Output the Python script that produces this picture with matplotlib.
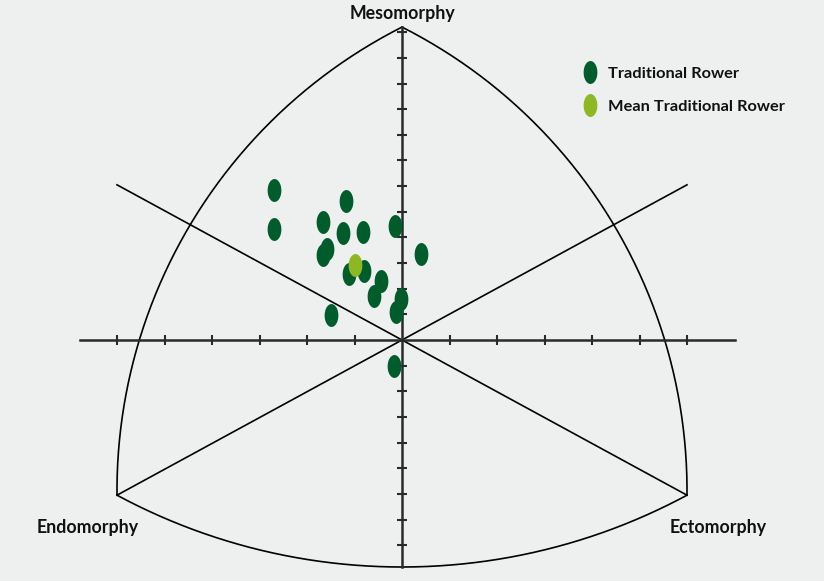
import numpy as np
import matplotlib
matplotlib.use("Agg")
import matplotlib.pyplot as plt
from matplotlib.path import Path
from matplotlib.lines import Line2D

# ---- data (somatochart X, Y coordinates) ----
rower_x = [-2.70, -2.70, -1.17, -1.66, -1.25, -0.82, -0.15, -1.57, -1.66, 0.41,
           -1.12, -0.79, -0.44, -0.58, -0.03, -0.13, -1.50, -0.17]
rower_y = [5.85, 4.32, 5.43, 4.60, 4.16, 4.20, 4.46, 3.54, 3.31, 3.34,
           2.56, 2.68, 2.30, 1.73, 1.59, 1.10, 0.96, -1.00]
mean_x = [-0.99]
mean_y = [2.92]
x_ticks = [-6, -5, -4, -3, -2, -1, 1, 2, 3, 4, 5, 6]
y_ticks = [-8, -7, -6, -5, -4, -3, -2, -1, 1, 2, 3, 4, 5, 6, 7, 8, 9, 10, 11, 12]
axis_labels = ["Mesomorphy", "Endomorphy", "Ectomorphy"]
legend_labels = ["Traditional Rower", "Mean Traditional Rower"]

# ---- geometry / style ----
BG = "#eef0ef"
DARK = "#005c2a"
LIGHT = "#8db824"
SX, SY = 47.5, 25.65          # pixels per unit
OX, OY = 402, 340             # origin pixel
W, H = 824, 581
top_v = (0.0, 12.2)
bl_v = (-6.0, -6.05)
br_v = (6.0, -6.05)
left_mid = (-5.53, 0.0)
bot_mid = (0.0, -8.85)

fig = plt.figure(figsize=(W / 100, H / 100), dpi=100, facecolor=BG)
ax = fig.add_axes([0, 0, 1, 1])
ax.set_facecolor(BG)
ax.set_xlim(-OX / SX, (W - OX) / SX)
ax.set_ylim(-(H - OY) / SY, OY / SY)
ax.axis("off")


def arc(p1, p2, p3, n=200):
    # circle through three points computed in pixel-like space
    a = np.array([p1[0] * SX, p1[1] * SY])
    b = np.array([p2[0] * SX, p2[1] * SY])
    c = np.array([p3[0] * SX, p3[1] * SY])
    d = 2 * (a[0] * (b[1] - c[1]) + b[0] * (c[1] - a[1]) + c[0] * (a[1] - b[1]))
    ux = ((a @ a) * (b[1] - c[1]) + (b @ b) * (c[1] - a[1]) + (c @ c) * (a[1] - b[1])) / d
    uy = ((a @ a) * (c[0] - b[0]) + (b @ b) * (a[0] - c[0]) + (c @ c) * (b[0] - a[0])) / d
    r = np.hypot(a[0] - ux, a[1] - uy)
    t1 = np.arctan2(a[1] - uy, a[0] - ux)
    t2 = np.arctan2(b[1] - uy, b[0] - ux)
    t3 = np.arctan2(c[1] - uy, c[0] - ux)
    t2u = np.unwrap([t1, t2, t3])
    t = np.linspace(t2u[0], t2u[2], n)
    return (ux + r * np.cos(t)) / SX, (uy + r * np.sin(t)) / SY


lw_thin = 1.2
for p1, p2, p3 in [(top_v, left_mid, bl_v),
                   (top_v, (-left_mid[0], left_mid[1]), br_v),
                   (bl_v, bot_mid, br_v)]:
    xs, ys = arc(p1, p2, p3)
    ax.plot(xs, ys, color="black", lw=lw_thin, solid_capstyle="round")

# diagonals through origin
ax.plot([bl_v[0], -bl_v[0]], [bl_v[1], -bl_v[1]], color="black", lw=lw_thin)
ax.plot([br_v[0], -br_v[0]], [br_v[1], -br_v[1]], color="black", lw=lw_thin)

# axes
AX_COL = "#2a2a2a"
ax.plot([(80 - OX) / SX, (735 - OX) / SX], [0, 0], color=AX_COL, lw=1.8)
ax.plot([0, 0], [bot_mid[1], top_v[1]], color=AX_COL, lw=1.8)
tk = 5.0
ax.vlines(x_ticks, -tk / SY, tk / SY, color=AX_COL, lw=1.5)
ax.hlines(y_ticks, -tk / SX, tk / SX, color=AX_COL, lw=1.5)

# ellipse marker
th = np.linspace(0, 2 * np.pi, 60)
ell = Path(np.column_stack([0.6 * np.cos(th), np.sin(th)]), closed=True)
ms = 16.5
ax.scatter(rower_x, rower_y, marker=ell, s=ms ** 2, color=DARK, linewidths=0, zorder=5)
ax.scatter(mean_x, mean_y, marker=ell, s=ms ** 2, color=LIGHT, linewidths=0, zorder=6)

font = ["Lato", "DejaVu Sans"]
ax.text(0.488, 1 - 14 / H, axis_labels[0], transform=ax.transAxes, ha="center", va="center",
        fontsize=12.8, fontweight="bold", family=font, color="#111111")
ax.text(88 / W, 1 - 527 / H, axis_labels[1], transform=ax.transAxes, ha="center", va="center",
        fontsize=12.8, fontweight="bold", family=font, color="#111111")
ax.text(718 / W, 1 - 527 / H, axis_labels[2], transform=ax.transAxes, ha="center", va="center",
        fontsize=12.8, fontweight="bold", family=font, color="#111111")

handles = [Line2D([], [], ls="none", marker=ell, ms=ms, color=DARK, mew=0),
           Line2D([], [], ls="none", marker=ell, ms=ms, color=LIGHT, mew=0)]
leg = ax.legend(handles, legend_labels, loc="upper left", bbox_to_anchor=(574 / W, 1 - 60 / H),
                frameon=False, handlelength=1.2, handletextpad=0.45, labelspacing=1.1,
                prop={"family": font, "weight": "bold", "size": 11.8}, borderaxespad=0)
for t in leg.get_texts():
    t.set_color("#111111")

fig.savefig("out.png", dpi=100, facecolor=BG)
